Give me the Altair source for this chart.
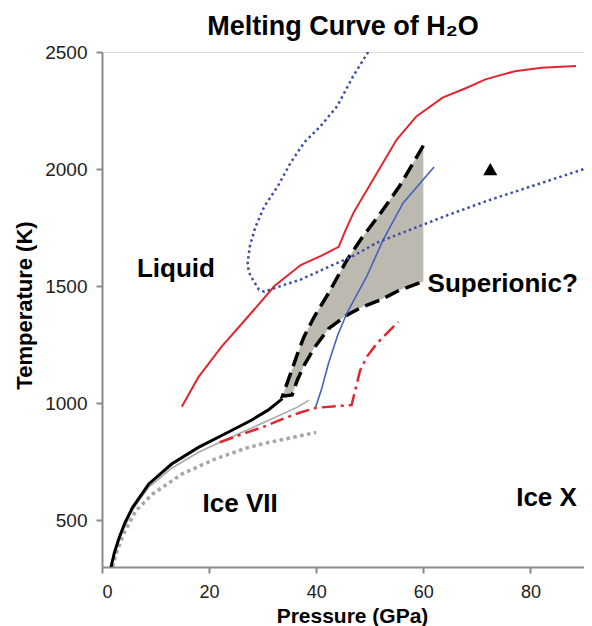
import altair as alt
import pandas as pd

# ---------------- data ----------------
# red solid melting curve
red_P = [14.9, 18.0, 22.3, 27.2, 32.2, 37.1, 41.0, 44.2, 45.5, 47.0, 50.6, 55.0, 58.7, 63.6, 67.9, 71.6, 77.1, 82.1, 88.5]
red_T = [985, 1111, 1240, 1368, 1500, 1590, 1630, 1668, 1740, 1815, 1954, 2125, 2225, 2305, 2345, 2383, 2418, 2433, 2440]

# blue dotted curve
bdot_P = [49.7, 46.9, 43.9, 40.8, 37.7, 35.2, 32.8, 30.3, 28.6, 27.6, 27.2, 27.4, 28.2, 29.3, 30.3, 34.0, 37.1, 42.6, 47.0, 51.3, 58.0, 64.2, 72.0, 80.0, 90.0]
bdot_T = [2500, 2397, 2268, 2183, 2112, 2026, 1926, 1840, 1750, 1670, 1600, 1560, 1526, 1485, 1476, 1505, 1528, 1585, 1630, 1685, 1745, 1800, 1865, 1925, 2000]

# blue solid curve
bsol_P = [39.9, 41.0, 42.3, 44.0, 45.7, 49.4, 52.5, 56.2, 62.0]
bsol_T = [983, 1060, 1170, 1290, 1383, 1540, 1697, 1854, 2009]

# black solid curve
blk_P = [1.7, 2.3, 3.2, 4.3, 5.7, 8.7, 13.0, 18.0, 22.9, 27.8, 31.0, 33.7]
blk_T = [300, 360, 425, 490, 554, 654, 740, 811, 868, 926, 970, 1019]

# gray solid curve
gsol_P = [1.5, 3.2, 5.7, 8.7, 13.0, 18.0, 24.1, 30.3, 36.5, 38.6]
gsol_T = [300, 420, 545, 640, 722, 790, 854, 918, 983, 1012]

# gray dotted curve
gdot_P = [2.0, 2.6, 4.0, 6.3, 9.4, 14.9, 21.1, 27.2, 30.3, 36.5, 40.0]
gdot_T = [300, 354, 440, 540, 611, 697, 761, 810, 828, 858, 875]

# red dash-dot curve
rdd_P = [22.0, 26.0, 30.3, 34.0, 37.0, 40.0, 46.6, 48.2, 49.5, 51.3, 55.3]
rdd_T = [833, 866, 900, 935, 960, 980, 992, 1140, 1200, 1254, 1347]

# shaded (superionic?) region: lower / upper boundaries
sh_P = [33.7, 35.5, 36.5, 37.7, 39.6, 42.3, 45.7, 48.5, 51.9, 55.5, 60.0]
sh_low = [1030, 1035, 1100, 1160, 1235, 1318, 1376, 1410, 1440, 1482, 1520]
sh_high = [1030, 1145, 1210, 1283, 1368, 1470, 1610, 1705, 1808, 1925, 2100]

# triangle marker
tri_P = [72.5]
tri_T = [2000]

# region labels
lab_text = ["Liquid", "Superionic?", "Ice VII", "Ice X"]
lab_P = [13.8, 60.8, 25.8, 83.0]
lab_T = [1540, 1476, 533, 561]
lab_align = ["center", "left", "center", "center"]

x_ticks = [0, 20, 40, 60, 80]
y_ticks = [500, 1000, 1500, 2000, 2500]

# ---------------- build tables ----------------
def line_df(P, T):
    return pd.DataFrame({"P": P, "T": T, "i": list(range(len(P)))})

fill_df = pd.DataFrame({"P": sh_P, "Tlow": sh_low, "Thigh": sh_high})
# outline path: upper boundary from top down to the tip, then lower boundary up
out_P = list(reversed(sh_P)) + sh_P[1:]
out_T = list(reversed(sh_high)) + sh_low[1:]

FONT = "Liberation Sans"
GRAY = "#8a8a8a"

xscale = alt.Scale(domain=[0, 90], nice=False, zero=False)
yscale = alt.Scale(domain=[300, 2500], nice=False, zero=False)

xaxis = alt.Axis(
    title="Pressure (GPa)", values=x_ticks, grid=False, format="d",
    labelFont=FONT, labelFontSize=18, labelColor="#222222", labelPadding=10,
    tickSize=6, tickColor=GRAY, tickWidth=2, domainColor=GRAY, domainWidth=2,
    titleFont=FONT, titleFontSize=21, titleFontWeight="bold", titleColor="#000000",
    titleX=250, titleY=55, titleBaseline="alphabetic", titleAlign="center",
)
yaxis = alt.Axis(
    title="Temperature (K)", values=y_ticks, grid=False, format="d",
    labelFont=FONT, labelFontSize=19, labelColor="#222222", labelPadding=9,
    tickSize=6, tickColor=GRAY, tickWidth=2, domainColor=GRAY, domainWidth=2,
    titleFont=FONT, titleFontSize=22, titleFontWeight="bold", titleColor="#000000",
    titleX=-78, titleY=253, titleAngle=270, titleBaseline="middle", titleAlign="center",
)

X = alt.X("P:Q", scale=xscale, axis=xaxis)
Y = alt.Y("T:Q", scale=yscale, axis=yaxis)


def curve(P, T, **mark):
    return alt.Chart(line_df(P, T)).mark_line(clip=True, **mark).encode(
        x=X, y=Y, order="i:Q")


fill = alt.Chart(fill_df).mark_area(color="#bcbab0", opacity=1).encode(
    x=X, y=alt.Y("Tlow:Q", scale=yscale, axis=yaxis), y2="Thigh:Q")

outline = curve(out_P, out_T, color="#000000", strokeWidth=3.5, strokeDash=[15, 7])
black = curve(blk_P, blk_T, color="#000000", strokeWidth=3)
gsol = curve(gsol_P, gsol_T, color="#a9a9a9", strokeWidth=1.6)
gdot = curve(gdot_P, gdot_T, color="#a6a6a6", strokeWidth=3.5, strokeDash=[3.5, 3.5])
rdd = curve(rdd_P, rdd_T, color="#e3262e", strokeWidth=2.5, strokeDash=[14, 5, 3, 5])
red = curve(red_P, red_T, color="#e3262e", strokeWidth=2)
bsol = curve(bsol_P, bsol_T, color="#4361bd", strokeWidth=1.6)
bdot = curve(bdot_P, bdot_T, color="#3c4ea6", strokeWidth=2.5, strokeDash=[2.5, 3.2])

tri = alt.Chart(pd.DataFrame({"P": tri_P, "T": tri_T})).mark_point(
    shape="triangle-up", filled=True, color="#000000", opacity=1, size=200).encode(x=X, y=Y)

labels = alt.Chart(pd.DataFrame({"P": lab_P, "T": lab_T, "text": lab_text, "align": lab_align}))
lab_center = labels.transform_filter(alt.datum.align == "center").mark_text(
    font=FONT, fontSize=26, fontWeight="bold", color="#000000", align="center",
    baseline="alphabetic").encode(x=X, y=Y, text="text:N")
lab_left = labels.transform_filter(alt.datum.align == "left").mark_text(
    font=FONT, fontSize=26, fontWeight="bold", color="#000000", align="left",
    baseline="alphabetic").encode(x=X, y=Y, text="text:N")

chart = alt.layer(
    fill, outline, gdot, gsol, black, rdd, bsol, red, bdot, tri, lab_center, lab_left
).properties(
    width=482, height=515,
    autosize=alt.AutoSizeParams(type="none"),
    padding={"left": 94, "top": 44, "right": 0, "bottom": 59},
    title=alt.TitleParams("Melting Curve of H₂O", font=FONT, fontSize=27, fontWeight="bold",
                          color="#000000", anchor="middle", frame="group", offset=2),
).configure_view(stroke=GRAY, strokeWidth=2).configure(background="#ffffff")

chart.save("out.html", embed_options={"renderer": "svg", "actions": False})
